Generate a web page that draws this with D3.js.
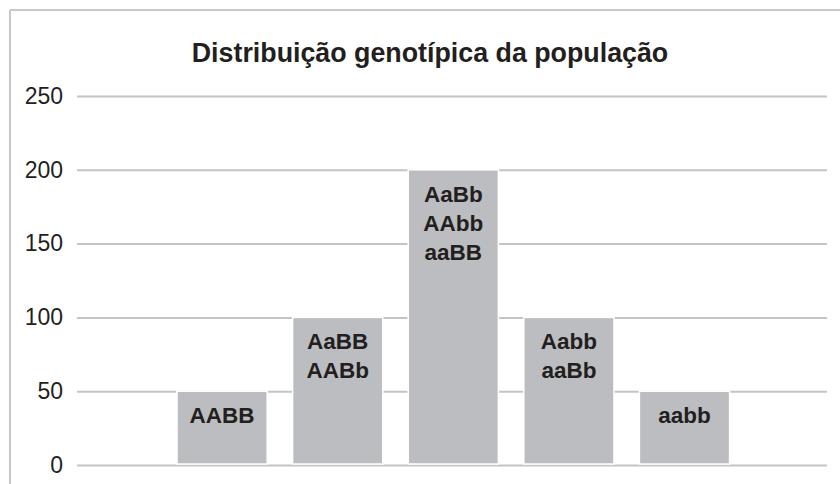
<!DOCTYPE html>
<html>
<head>
<meta charset="utf-8">
<script src="https://cdn.jsdelivr.net/npm/d3@7"></script>
<style>
  html, body { margin: 0; padding: 0; background: #ffffff; }
  svg { display: block; }
</style>
</head>
<body>
<script>
// ---- Data ----
const title = "Distribuição genotípica da população";
const categories = ["AABB", "AaBB/AABb", "AaBb/AAbb/aaBB", "Aabb/aaBb", "aabb"];
const barLabels = [["AABB"], ["AaBB", "AABb"], ["AaBb", "AAbb", "aaBB"], ["Aabb", "aaBb"], ["aabb"]];
const values = [50, 100, 200, 100, 50];
const yTicks = [0, 50, 100, 150, 200, 250];

// ---- Layout ----
const W = 840, H = 484;
const plotLeft = 77, plotRight = 827;
const textColor = "#231f20";
const font = "'Liberation Sans', Arial, Helvetica, sans-serif";

const svg = d3.select("body").append("svg")
  .attr("width", W).attr("height", H);

// outer frame (top and left edges visible)
svg.append("line").attr("x1", 10).attr("x2", W).attr("y1", 10).attr("y2", 10)
  .attr("stroke", "#c8c8c8").attr("stroke-width", 2);
svg.append("line").attr("x1", 10).attr("x2", 10).attr("y1", 10).attr("y2", H)
  .attr("stroke", "#c8c8c8").attr("stroke-width", 2);

// title
svg.append("text")
  .attr("x", 430).attr("y", 62)
  .attr("text-anchor", "middle")
  .attr("font-family", font).attr("font-weight", "bold").attr("font-size", 26.8)
  .attr("fill", textColor)
  .text(title);

// scales
const y = d3.scaleLinear().domain([0, 250]).range([465, 96]);
const x = d3.scaleBand().domain(categories).range([164.3, 742.3])
  .paddingInner(0.22).paddingOuter(0.11);

// y axis with gridlines
const yAxis = d3.axisLeft(y).tickValues(yTicks)
  .tickSize(-(plotRight - plotLeft)).tickPadding(14).tickFormat(d3.format("d"));
const gy = svg.append("g").attr("transform", `translate(${plotLeft},0)`).call(yAxis);
gy.select(".domain").remove();
gy.selectAll(".tick line").attr("stroke", "#c4c4c4").attr("stroke-width", 2);
gy.selectAll(".tick text").attr("font-family", font).attr("font-size", 23)
  .attr("fill", textColor);

// bars
svg.append("g").selectAll("rect").data(values).join("rect")
  .attr("x", (d, i) => x(categories[i]))
  .attr("y", d => y(d))
  .attr("width", x.bandwidth())
  .attr("height", d => y(0) - y(d) - 1)
  .attr("fill", "#bcbdc0")
  .attr("stroke", "#ffffff").attr("stroke-width", 1.5);

// bar labels
const lg = svg.append("g");
values.forEach((v, i) => {
  const cx = x(categories[i]) + x.bandwidth() / 2;
  barLabels[i].forEach((t, j) => {
    lg.append("text")
      .attr("x", cx).attr("y", y(v) + 32 + j * 29)
      .attr("text-anchor", "middle")
      .attr("font-family", font).attr("font-weight", "bold").attr("font-size", 22.5)
      .attr("fill", textColor)
      .text(t);
  });
});
</script>
</body>
</html>
